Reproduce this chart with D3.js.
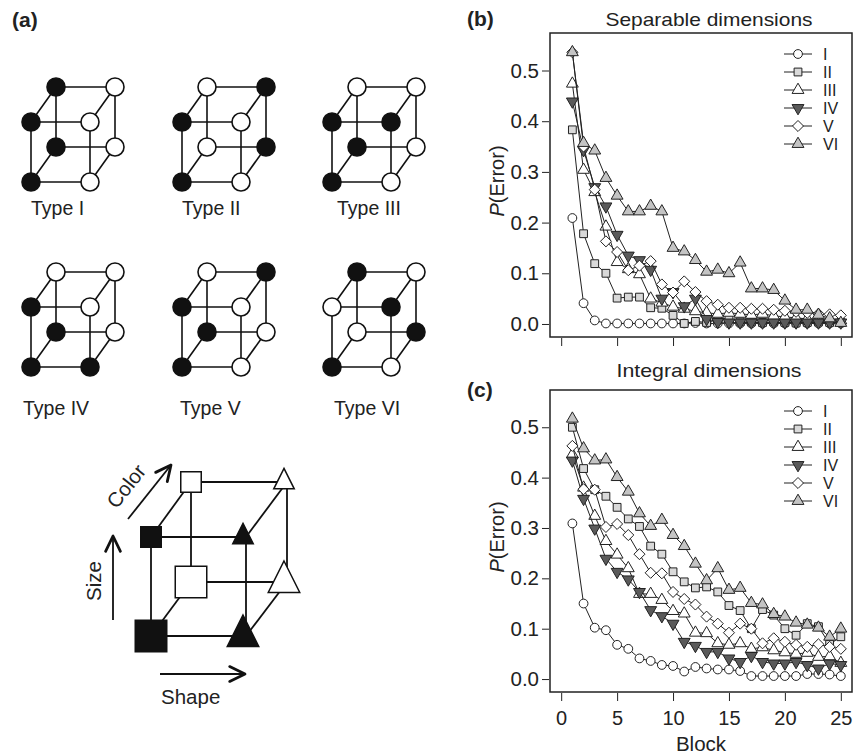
<!DOCTYPE html>
<html>
<head>
<meta charset="utf-8">
<script src="https://cdn.jsdelivr.net/npm/d3@7"></script>
<style>
body{margin:0;background:#fff;}
text{font-family:"Liberation Sans",Arial,Helvetica,sans-serif;fill:#222;}
</style>
</head>
<body>
<svg width="855" height="755"></svg>
<script>
// ---- data ----
var blocks = [1,2,3,4,5,6,7,8,9,10,11,12,13,14,15,16,17,18,19,20,21,22,23,24,25];
var seriesNames = ['I','II','III','IV','V','VI'];
var yTicks = [0, 0.1, 0.2, 0.3, 0.4, 0.5];
var xTicks = [0, 5, 10, 15, 20, 25];

// (b) separable dimensions
var sep_I   = [0.209,0.041,0.007,0.001,0.001,0.001,0.001,0.001,0.001,0.001,0.001,0.002,0.001,0.001,0.001,0.001,0.001,0.001,0.001,0.001,0.001,0.001,0.001,0.001,0.001];
var sep_II  = [0.383,0.178,0.119,0.100,0.051,0.053,0.053,0.032,0.031,0.017,0.001,0.005,0.003,0.008,0.012,0.004,0.004,0.003,0.004,0.003,0.002,0.003,0.004,0.003,0.003];
var sep_III = [0.474,0.304,0.260,0.192,0.122,0.108,0.098,0.050,0.042,0.034,0.030,0.025,0.022,0.020,0.022,0.020,0.018,0.020,0.016,0.014,0.012,0.010,0.009,0.008,0.007];
var sep_IV  = [0.439,0.343,0.270,0.232,0.176,0.135,0.126,0.107,0.050,0.063,0.035,0.050,0.010,0.004,0.003,0.003,0.003,0.003,0.003,0.003,0.003,0.003,0.003,0.003,0.003];
var sep_V   = [0.536,0.350,0.265,0.163,0.142,0.106,0.115,0.124,0.078,0.062,0.084,0.063,0.045,0.038,0.032,0.032,0.030,0.030,0.028,0.026,0.024,0.022,0.020,0.019,0.017];
var sep_VI  = [0.536,0.357,0.342,0.288,0.253,0.222,0.222,0.233,0.222,0.150,0.143,0.126,0.103,0.107,0.100,0.121,0.070,0.070,0.067,0.046,0.028,0.028,0.018,0.011,0.002];

// (c) integral dimensions
var int_I   = [0.309,0.150,0.102,0.097,0.068,0.060,0.041,0.036,0.028,0.026,0.015,0.024,0.021,0.019,0.019,0.016,0.006,0.006,0.006,0.006,0.006,0.010,0.010,0.009,0.006];
var int_II  = [0.500,0.418,0.376,0.363,0.341,0.318,0.303,0.264,0.248,0.213,0.193,0.181,0.183,0.173,0.146,0.136,0.100,0.138,0.127,0.100,0.087,0.110,0.104,0.069,0.084];
var int_III = [0.446,0.380,0.324,0.274,0.247,0.220,0.169,0.169,0.157,0.135,0.130,0.092,0.091,0.071,0.068,0.071,0.060,0.063,0.057,0.053,0.050,0.052,0.044,0.045,0.032];
var int_IV  = [0.434,0.358,0.299,0.239,0.213,0.198,0.173,0.137,0.125,0.110,0.074,0.066,0.054,0.054,0.041,0.034,0.046,0.034,0.031,0.031,0.034,0.028,0.021,0.031,0.028];
var int_V   = [0.463,0.377,0.376,0.302,0.308,0.286,0.248,0.211,0.210,0.173,0.159,0.148,0.124,0.110,0.092,0.110,0.100,0.071,0.081,0.074,0.068,0.064,0.069,0.064,0.060];
var int_VI  = [0.517,0.458,0.434,0.436,0.401,0.372,0.329,0.304,0.316,0.286,0.264,0.229,0.196,0.220,0.177,0.181,0.151,0.148,0.129,0.124,0.112,0.108,0.102,0.084,0.100];

// (a) category structures: which vertex is black, order FBL,FBR,FTL,FTR,BBL,BBR,BTL,BTR
var typeNames = ['Type I','Type II','Type III','Type IV','Type V','Type VI'];
var typeBlack = [
	[1,0,1,0,1,0,1,0],
	[1,0,1,0,0,1,0,1],
	[1,0,1,1,1,0,0,0],
	[1,1,1,0,1,0,0,0],
	[1,0,1,0,1,0,0,1],
	[1,0,0,1,0,1,1,0]
];

// ---- styles ----
var pchShape = ['circle','square','triUp','triDown','diamond','triUp'];
var pchFill  = ['#fff','#d9d9d9','#fff','#5a5a5a','#fff','#c4c4c4'];
var ink = '#222';

var svg = d3.select('svg');

function markerPath(shape, R){
	if(shape=='circle') return 'M'+R+',0A'+R+','+R+' 0 1,1 '+(-R)+',0A'+R+','+R+' 0 1,1 '+R+',0Z';
	if(shape=='square'){ var s=0.886*R; return 'M'+(-s)+','+(-s)+'H'+s+'V'+s+'H'+(-s)+'Z'; }
	if(shape=='diamond'){ var d=1.253*R; return 'M0,'+(-d)+'L'+d+',0L0,'+d+'L'+(-d)+',0Z'; }
	var r=1.555*R, xc=1.347*R, yc=0.778*R;
	if(shape=='triUp') return 'M0,'+(-r)+'L'+xc+','+yc+'L'+(-xc)+','+yc+'Z';
	return 'M0,'+r+'L'+xc+','+(-yc)+'L'+(-xc)+','+(-yc)+'Z';
}

var x = d3.scaleLinear().domain([-1, 26]).range([550, 852]);

function drawPanel(series, top, bottom, title, titleY, titleLen, showXLabels){
	var y = d3.scaleLinear().domain([-0.0257, 0.574]).range([bottom, top]);
	var g = svg.append('g');
	var line = d3.line().x(function(d){return x(d.b)}).y(function(d){return y(d.v)});

	series.forEach(function(vals, i){
		var pts = blocks.map(function(b, k){return {b: b, v: vals[k]}});
		g.append('path').attr('d', line(pts))
			.attr('fill','none').attr('stroke', ink).attr('stroke-width', 1);
		g.selectAll('.m'+i).data(pts).enter().append('path')
			.attr('class','m'+i)
			.attr('transform', function(d){return 'translate('+x(d.b)+','+y(d.v)+')'})
			.attr('d', markerPath(pchShape[i], 4.4))
			.attr('fill', pchFill[i]).attr('stroke', ink).attr('stroke-width', 1);
	});

	// box
	g.append('rect').attr('x', 550).attr('y', top).attr('width', 302).attr('height', bottom-top)
		.attr('fill','none').attr('stroke', ink).attr('stroke-width', 1.5);

	// y axis
	var ya = g.append('g').attr('transform','translate(549,0)')
		.call(d3.axisLeft(y).tickValues(yTicks).tickFormat(d3.format('.1f')).tickSize(7).tickPadding(3));
	ya.select('.domain').remove();
	ya.selectAll('line').attr('stroke', ink);
	ya.selectAll('text').attr('font-size', 20.5).attr('fill', ink)
		.attr('font-family','"Liberation Sans",Arial,sans-serif');

	// x axis
	var xa = g.append('g').attr('transform','translate(0,'+(bottom+1)+')')
		.call(d3.axisBottom(x).tickValues(xTicks).tickSize(8).tickPadding(10)
			.tickFormat(showXLabels ? d3.format('d') : function(){return ''}));
	xa.select('.domain').remove();
	xa.selectAll('line').attr('stroke', ink);
	xa.selectAll('text').attr('font-size', 20).attr('fill', ink)
		.attr('font-family','"Liberation Sans",Arial,sans-serif');

	// title
	g.append('text').attr('x', 709).attr('y', titleY).attr('text-anchor','middle')
		.attr('font-size', 18.5).attr('textLength', titleLen).attr('lengthAdjust','spacingAndGlyphs')
		.text(title);

	// y label
	var yl = g.append('text').attr('transform','translate(504,'+((top+bottom)/2-4)+') rotate(-90)')
		.attr('text-anchor','middle').attr('font-size', 20);
	yl.append('tspan').attr('font-style','italic').text('P');
	yl.append('tspan').text('(Error)');

	// legend
	seriesNames.forEach(function(name, i){
		var ly = top + 21 + i*18;
		g.append('line').attr('x1', 784).attr('x2', 812).attr('y1', ly).attr('y2', ly)
			.attr('stroke', ink).attr('stroke-width', 1);
		g.append('path').attr('transform','translate(798,'+ly+')')
			.attr('d', markerPath(pchShape[i], 4.4))
			.attr('fill', pchFill[i]).attr('stroke', ink).attr('stroke-width', 1);
		g.append('text').attr('x', 823).attr('y', ly+5.8).attr('font-size', 16).text(name);
	});
}

drawPanel([sep_I, sep_II, sep_III, sep_IV, sep_V, sep_VI], 33, 337, 'Separable dimensions', 26, 207, false);
drawPanel([int_I, int_II, int_III, int_IV, int_V, int_VI], 390, 692, 'Integral dimensions', 377, 185, true);

svg.append('text').attr('x', 701).attr('y', 751).attr('text-anchor','middle').attr('font-size', 20.5).text('Block');

// panel letters
[['(a)', 12, 27], ['(b)', 467, 26], ['(c)', 467, 397]].forEach(function(p){
	svg.append('text').attr('x', p[1]).attr('y', p[2]).attr('font-size', 21).attr('font-weight','bold').text(p[0]);
});

// ---- (a) cubes ----
var cubeX = [31, 182, 332, 31, 182, 332];
var cubeY = [122, 122, 122, 307, 307, 307];
var labelX = [31, 182, 337, 23, 180, 334];
var labelY = [215, 215, 215, 415, 415, 415];
var cw = 59, ch = 60, cdx = 25, cdy = -35;

typeNames.forEach(function(name, t){
	var fx = cubeX[t], fy = cubeY[t];
	// FBL,FBR,FTL,FTR,BBL,BBR,BTL,BTR
	var v = [
		[fx, fy+ch], [fx+cw, fy+ch], [fx, fy], [fx+cw, fy],
		[fx+cdx, fy+ch+cdy], [fx+cw+cdx, fy+ch+cdy], [fx+cdx, fy+cdy], [fx+cw+cdx, fy+cdy]
	];
	var edges = [[0,1],[2,3],[0,2],[1,3],[4,5],[6,7],[4,6],[5,7],[0,4],[1,5],[2,6],[3,7]];
	var g = svg.append('g');
	g.selectAll('line').data(edges).enter().append('line')
		.attr('x1', function(e){return v[e[0]][0]}).attr('y1', function(e){return v[e[0]][1]})
		.attr('x2', function(e){return v[e[1]][0]}).attr('y2', function(e){return v[e[1]][1]})
		.attr('stroke', '#111').attr('stroke-width', 1.6);
	g.selectAll('circle').data(v).enter().append('circle')
		.attr('cx', function(d){return d[0]}).attr('cy', function(d){return d[1]})
		.attr('r', 9)
		.attr('fill', function(d, k){return typeBlack[t][k] ? '#111' : '#fff'})
		.attr('stroke', '#111').attr('stroke-width', 1.6);
	g.append('text').attr('x', labelX[t]).attr('y', labelY[t]).attr('font-size', 19.5).text(name);
});

// ---- (a) dimension cube: shape x size x color ----
var dimVerts = [
	// [x, y, shape, big, black]
	[151, 636, 'square', 1, 1], [246, 636, 'tri', 1, 1],
	[151, 537, 'square', 0, 1], [246, 537, 'tri', 0, 1],
	[191, 582, 'square', 1, 0], [287, 582, 'tri', 1, 0],
	[191, 482, 'square', 0, 0], [287, 482, 'tri', 0, 0]
];
var dimEdges = [[0,1],[2,3],[0,2],[1,3],[4,5],[6,7],[4,6],[5,7],[0,4],[1,5],[2,6],[3,7]];
var dg = svg.append('g');
dg.selectAll('line').data(dimEdges).enter().append('line')
	.attr('x1', function(e){return dimVerts[e[0]][0]}).attr('y1', function(e){return dimVerts[e[0]][1]})
	.attr('x2', function(e){return dimVerts[e[1]][0]}).attr('y2', function(e){return dimVerts[e[1]][1]})
	.attr('stroke', '#111').attr('stroke-width', 1.8);
dg.selectAll('path').data(dimVerts).enter().append('path')
	.attr('transform', function(d){return 'translate('+d[0]+','+d[1]+')'})
	.attr('d', function(d){
		var s = d[3] ? 31.5 : 20.5;
		if(d[2]=='square') return 'M'+(-s/2)+','+(-s/2)+'h'+s+'v'+s+'h'+(-s)+'Z';
		return 'M-3,'+(-s*2/3)+'L'+(s/2-3)+','+(s/3)+'L'+(-s/2-3)+','+(s/3)+'Z';
	})
	.attr('fill', function(d){return d[4] ? '#111' : '#fff'})
	.attr('stroke', '#111').attr('stroke-width', 1.5);

// arrows
function arrow(x1, y1, x2, y2){
	var a = Math.atan2(y2-y1, x2-x1), L = 17, w = 0.45;
	dg.append('line').attr('x1', x1).attr('y1', y1).attr('x2', x2).attr('y2', y2)
		.attr('stroke', '#111').attr('stroke-width', 1.8);
	dg.append('path')
		.attr('d', 'M'+(x2-L*Math.cos(a-w))+','+(y2-L*Math.sin(a-w))+'L'+x2+','+y2+'L'+(x2-L*Math.cos(a+w))+','+(y2-L*Math.sin(a+w)))
		.attr('fill','none').attr('stroke','#111').attr('stroke-width', 2.8)
		.attr('stroke-linecap','round').attr('stroke-linejoin','round');
}
arrow(128, 519, 171, 465);
arrow(113, 620, 113, 536);
arrow(160, 674, 245, 674);

dg.append('text').attr('transform','translate(126,486) rotate(-51.5)').attr('text-anchor','middle')
	.attr('dominant-baseline','central').attr('font-size', 20.5).text('Color');
dg.append('text').attr('transform','translate(101,581) rotate(-90)').attr('text-anchor','middle')
	.attr('font-size', 20.5).text('Size');
dg.append('text').attr('x', 161).attr('y', 704).attr('font-size', 20.5).text('Shape');
</script>
</body>
</html>
